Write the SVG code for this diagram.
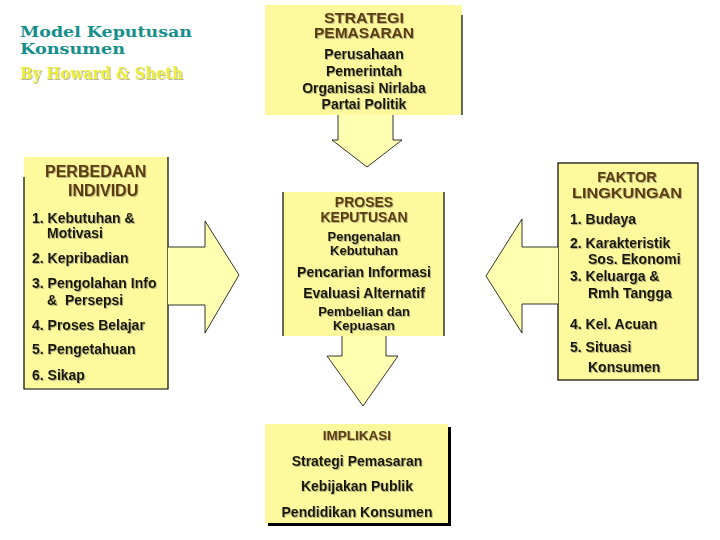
<svg xmlns="http://www.w3.org/2000/svg" width="720" height="540" viewBox="0 0 720 540">
<defs>
<filter id="sh" x="-10%" y="-30%" width="120%" height="160%">
<feDropShadow dx="1" dy="1" stdDeviation="0.4" flood-color="#7a7a60" flood-opacity="0.55"/>
</filter>
<style>
.box{fill:#fff99e;stroke:none}
.edge{stroke:#000;stroke-width:1.2;fill:none}
.shadow{fill:#000}
.arr{fill:#ffffb2;stroke:none}
.arrl{fill:none;stroke:#000;stroke-width:0.8;stroke-linejoin:miter}
.hd{font-family:"Liberation Sans",Arial,sans-serif;font-weight:bold;fill:#5c3b0c;filter:url(#sh)}
.tx{font-family:"Liberation Sans",Arial,sans-serif;font-weight:bold;font-size:14px;fill:#141400;filter:url(#sh)}
.tt{font-size:13px}
.c{text-anchor:middle}
.ttl{font-family:"DejaVu Serif","Liberation Serif",serif;font-weight:bold;fill:#168f8a}
.sub{font-family:"DejaVu Serif","Liberation Serif",serif;font-weight:bold;fill:#eeee3c}
</style>
</defs>
<rect width="720" height="540" fill="#fff"/>

<g id="title">
<text class="ttl" x="20" y="37" font-size="15" textLength="172" lengthAdjust="spacingAndGlyphs">Model Keputusan</text>
<text class="ttl" x="20" y="54" font-size="15" textLength="105" lengthAdjust="spacingAndGlyphs">Konsumen</text>
<text class="sub" x="20" y="79" font-size="16" textLength="163" lengthAdjust="spacingAndGlyphs" filter="url(#sh)">By Howard &amp; Sheth</text>
</g>

<g id="strategi">
<rect class="box" x="265" y="5" width="197" height="110"/>
<line class="edge" x1="462" y1="15" x2="462" y2="115"/>
<text class="hd c" x="364" y="23" font-size="14.5" textLength="80" lengthAdjust="spacingAndGlyphs">STRATEGI</text>
<text class="hd c" x="364" y="38" font-size="14.5" textLength="100" lengthAdjust="spacingAndGlyphs">PEMASARAN</text>
<text class="tx c" x="364" y="59">Perusahaan</text>
<text class="tx c" x="364" y="76">Pemerintah</text>
<text class="tx c" x="364" y="93">Organisasi Nirlaba</text>
<text class="tx c" x="364" y="109">Partai Politik</text>
</g>

<g id="perbedaan">
<rect class="box" x="24" y="157" width="144" height="232"/>
<polyline class="edge" points="24,177 24,389 168,389 168,157"/>
<text class="hd" x="45" y="177" font-size="16">PERBEDAAN</text>
<text class="hd" x="68" y="196" font-size="16">INDIVIDU</text>
<text class="tx" x="32" y="223">1. Kebutuhan &amp;</text>
<text class="tx" x="47" y="238">Motivasi</text>
<text class="tx" x="32" y="263">2. Kepribadian</text>
<text class="tx" x="32" y="288">3. Pengolahan Info</text>
<text class="tx" x="47" y="305" xml:space="preserve">&amp;  Persepsi</text>
<text class="tx" x="32" y="330">4. Proses Belajar</text>
<text class="tx" x="32" y="354">5. Pengetahuan</text>
<text class="tx" x="32" y="380">6. Sikap</text>
</g>

<g id="faktor">
<rect class="box" x="558" y="163" width="140" height="217"/>
<rect class="edge" x="558" y="163" width="140" height="217"/>
<text class="hd c" x="627" y="182" font-size="14.5">FAKTOR</text>
<text class="hd c" x="627" y="198" font-size="14.5" textLength="110" lengthAdjust="spacingAndGlyphs">LINGKUNGAN</text>
<text class="tx" x="570" y="224">1. Budaya</text>
<text class="tx" x="570" y="248">2. Karakteristik</text>
<text class="tx" x="588" y="264">Sos. Ekonomi</text>
<text class="tx" x="570" y="281">3. Keluarga &amp;</text>
<text class="tx" x="588" y="298">Rmh Tangga</text>
<text class="tx" x="570" y="329">4. Kel. Acuan</text>
<text class="tx" x="570" y="352">5. Situasi</text>
<text class="tx" x="588" y="372">Konsumen</text>
</g>

<g id="proses">
<rect class="box" x="283" y="192" width="161" height="144"/>
<line class="edge" x1="283" y1="192" x2="283" y2="336"/>
<line class="edge" x1="444" y1="192" x2="444" y2="336"/>
<text class="hd c" x="364" y="207" font-size="14">PROSES</text>
<text class="hd c" x="364" y="222" font-size="14">KEPUTUSAN</text>
<text class="tx tt c" x="364" y="241">Pengenalan</text>
<text class="tx tt c" x="364" y="255">Kebutuhan</text>
<text class="tx c" x="364" y="277">Pencarian Informasi</text>
<text class="tx c" x="364" y="298">Evaluasi Alternatif</text>
<text class="tx tt c" x="364" y="316">Pembelian dan</text>
<text class="tx tt c" x="364" y="330">Kepuasan</text>
</g>

<g id="implikasi">
<rect class="shadow" x="268" y="427" width="183" height="99"/>
<rect class="box" x="265" y="424" width="183" height="99"/>
<text class="hd c" x="357" y="440" font-size="13.5">IMPLIKASI</text>
<text class="tx c" x="357" y="466">Strategi Pemasaran</text>
<text class="tx c" x="357" y="491">Kebijakan Publik</text>
<text class="tx c" x="357" y="517">Pendidikan Konsumen</text>
</g>

<g id="connectors">
<polygon class="arr" points="338,115 393,115 393,140 402,140 367,167 332,140 338,140"/>
<polyline class="arrl" points="338,115 338,140 332,140 367,167 402,140 393,140 393,115"/>

<polygon class="arr" points="342,336 386,336 386,356 398,356 363,406 327,356 342,356"/>
<polyline class="arrl" points="342,336 342,356 327,356 363,406 398,356 386,356 386,336"/>

<polygon class="arr" points="168,247 205,247 205,221 239,275 205,333 205,305 168,305"/>
<polyline class="arrl" points="168,247 205,247 205,221 239,275 205,333 205,305 168,305"/>

<polygon class="arr" points="558,247 522,247 522,219 486,276 522,333 522,304 558,304"/>
<polyline class="arrl" points="558,247 522,247 522,219 486,276 522,333 522,304 558,304"/>
</g>
</svg>
